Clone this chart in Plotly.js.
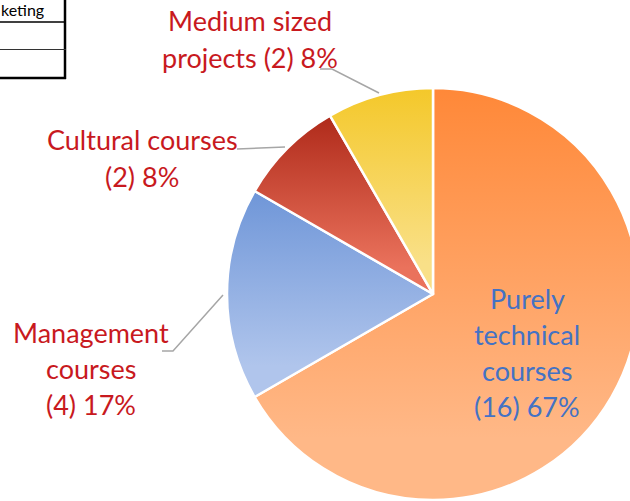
<!DOCTYPE html>
<html>
<head>
<meta charset="utf-8">
<script src="https://cdn.plot.ly/plotly-3.0.1.min.js"></script>
<style>
  html, body { margin: 0; padding: 0; overflow: hidden; background: #fff; width: 630px; height: 501px; }
  #chart { width: 660px; height: 520px; }
</style>
</head>
<body>
<div id="chart"></div>
<script>
// ---- data ----
const categories = ['Purely technical courses', 'Management courses', 'Cultural courses', 'Medium sized projects'];
const counts = [16, 4, 2, 2];
// label text lines (the count / percent part is appended from the data)
const labelNameLines = [['Purely', 'technical', 'courses'], ['Management', 'courses'], ['Cultural courses'], ['Medium sized', 'projects']];
const countOnOwnLine = [true, true, true, false];
const tableText = 'keting';

// ---- styles ----
const topColors = ['#FF8838', '#6F96D8', '#AF2A1A', '#F4C82A'];
const bottomColors = ['#FFB887', '#B0C5EC', '#EA725C', '#F9E088'];
const labelColors = ['#4472C4', '#C8191E', '#C8191E', '#C8191E'];
const W = 660, H = 520;
const px = x => x / W, py = y => 1 - y / H;

const total = counts.reduce((a, b) => a + b, 0);
const labelLines = labelNameLines.map((lines, i) => {
  const suffix = '(' + counts[i] + ') ' + Math.round(100 * counts[i] / total) + '%';
  const out = lines.slice();
  if (countOnOwnLine[i]) out.push(suffix); else out[out.length - 1] += ' ' + suffix;
  return out;
});

// label block placement (pixel centre x, first line centre y)
const labelPos = [[527, 298], [91, 332], [142, 140], [250, 21]];
const lineStep = 36;
const FONT = 'Lato, "Open Sans", sans-serif';

const annotations = [];
labelLines.forEach((lines, i) => {
  lines.forEach((t, j) => {
    annotations.push({
      xref: 'paper', yref: 'paper', x: px(labelPos[i][0]), y: py(labelPos[i][1] + j * lineStep),
      xanchor: 'center', yanchor: 'middle', showarrow: false, text: t,
      font: { family: FONT, size: 27, color: labelColors[i] }
    });
  });
});
annotations.push({
  xref: 'paper', yref: 'paper', x: px(-1), y: py(9), xanchor: 'left', yanchor: 'middle',
  showarrow: false, text: tableText, font: { family: FONT, size: 16, color: '#000' }
});

const lineStyle = { color: '#A6A6A6', width: 1.5 };
function path(pts) {
  return 'M' + pts.map(p => px(p[0]) + ',' + py(p[1])).join(' L');
}
const shapes = [
  { type: 'path', xref: 'paper', yref: 'paper', path: path([[320, 69], [332, 69], [379, 93]]), line: lineStyle },
  { type: 'path', xref: 'paper', yref: 'paper', path: path([[237, 149], [285, 147]]), line: lineStyle },
  { type: 'path', xref: 'paper', yref: 'paper', path: path([[162, 351], [173, 351], [223, 295]]), line: lineStyle },
  // table fragment
  { type: 'line', xref: 'paper', yref: 'paper', x0: px(65), x1: px(65), y0: py(0), y1: py(79), line: { color: '#000', width: 2.5 } },
  { type: 'line', xref: 'paper', yref: 'paper', x0: px(-2), x1: px(66), y0: py(22), y1: py(22), line: { color: '#000', width: 1.5 } },
  { type: 'line', xref: 'paper', yref: 'paper', x0: px(-2), x1: px(66), y0: py(49.5), y1: py(49.5), line: { color: '#333', width: 1.2 } },
  { type: 'line', xref: 'paper', yref: 'paper', x0: px(-2), x1: px(66), y0: py(78), y1: py(78), line: { color: '#000', width: 2.5 } }
];

const cx = 433, cy = 294, r = 206;
const trace = {
  type: 'pie',
  labels: categories,
  values: counts,
  sort: false,
  direction: 'clockwise',
  rotation: 0,
  textinfo: 'none',
  hoverinfo: 'skip',
  marker: { colors: topColors, line: { color: '#ffffff', width: 2.5 } },
  domain: { x: [px(cx - r), px(cx + r)], y: [py(cy + r), py(cy - r)] },
  showlegend: false
};

const layout = {
  width: W, height: H,
  margin: { l: 0, r: 0, t: 0, b: 0 },
  paper_bgcolor: '#ffffff',
  showlegend: false,
  annotations: annotations,
  shapes: shapes
};

Plotly.newPlot('chart', [trace], layout, { staticPlot: true, displayModeBar: false }).then(gd => {
  const svg = gd.querySelector('svg.main-svg');
  const ns = 'http://www.w3.org/2000/svg';
  let defs = svg.querySelector('defs');
  if (!defs) { defs = document.createElementNS(ns, 'defs'); svg.insertBefore(defs, svg.firstChild); }
  topColors.forEach((c, i) => {
    const g = document.createElementNS(ns, 'linearGradient');
    g.setAttribute('id', 'sliceGrad' + i);
    g.setAttribute('x1', '0'); g.setAttribute('y1', '0'); g.setAttribute('x2', '0'); g.setAttribute('y2', '1');
    [[0, c], [0.85, bottomColors[i]], [1, bottomColors[i]]].forEach(s => {
      const st = document.createElementNS(ns, 'stop');
      st.setAttribute('offset', s[0]);
      st.setAttribute('stop-color', s[1]);
      g.appendChild(st);
    });
    defs.appendChild(g);
  });
  gd.querySelectorAll('g.slice path.surface').forEach((p, i) => {
    p.style.fill = 'url(#sliceGrad' + i + ')';
  });
});
</script>
</body>
</html>
